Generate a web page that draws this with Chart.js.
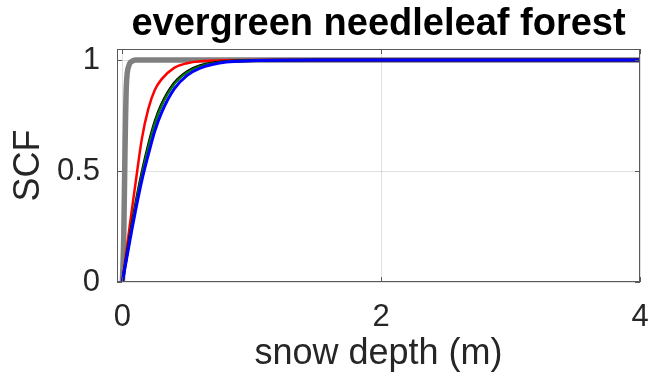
<!DOCTYPE html>
<html>
<head>
<meta charset="utf-8">
<script src="https://cdn.jsdelivr.net/npm/chart.js@4.4.1/dist/chart.umd.min.js"></script>
<style>
  html, body { margin: 0; padding: 0; background: #fff; }
  #wrap { width: 650px; height: 379px; }
</style>
</head>
<body>
<div id="wrap"><canvas id="myChart" width="650" height="379"></canvas></div>
<script>
// snow depth (m) and snow cover fraction for each curve
var depth = [0, 0.01, 0.02, 0.03, 0.05, 0.075, 0.1, 0.15, 0.2, 0.25, 0.3, 0.4, 0.5, 0.6, 0.8, 1.0, 1.5, 2, 3, 4];
var scfGray  = [0, 0.2, 0.6, 0.88, 0.975, 0.995, 1, 1, 1, 1, 1, 1, 1, 1, 1, 1, 1, 1, 1, 1];
var scfRed   = [0, 0.045, 0.09, 0.135, 0.225, 0.335, 0.44, 0.645, 0.78, 0.865, 0.912, 0.965, 0.986, 0.995, 0.999, 1, 1, 1, 1, 1];
var scfBlack = [0, 0.036, 0.072, 0.108, 0.178, 0.264, 0.345, 0.49, 0.615, 0.72, 0.797, 0.896, 0.948, 0.975, 0.994, 0.998, 1, 1, 1, 1];
var scfGreen = [0, 0.0357, 0.0713, 0.107, 0.176, 0.262, 0.342, 0.486, 0.61, 0.715, 0.792, 0.892, 0.945, 0.973, 0.994, 0.998, 1, 1, 1, 1];
var scfBlue  = [0, 0.033, 0.066, 0.098, 0.162, 0.242, 0.318, 0.458, 0.574, 0.68, 0.76, 0.87, 0.931, 0.964, 0.991, 0.997, 1, 1, 1, 1];

var xTicks = [0, 2, 4];
var yTicks = [0, 0.5, 1];
var titleText = 'evergreen needleleaf forest';

function pts(ys) {
  return depth.map(function (d, i) { return { x: d, y: ys[i] }; });
}

function line(label, ys, color, width) {
  return {
    label: label,
    data: pts(ys),
    borderColor: color,
    backgroundColor: color,
    borderWidth: width,
    pointRadius: 0,
    fill: false,
    cubicInterpolationMode: 'monotone'
  };
}

// box round the plot, inward ticks and the title above it
var axesBox = {
  id: 'axesBox',
  afterDraw: function (chart) {
    var ctx = chart.ctx;
    var a = chart.chartArea;
    var xs = chart.scales.x, ys = chart.scales.y;
    ctx.save();
    ctx.strokeStyle = '#5a5a5a';
    ctx.lineWidth = 1;
    ctx.strokeRect(a.left + 0.5, a.top + 0.5, a.right - a.left - 1, a.bottom - a.top - 1);
    ctx.beginPath();
    xTicks.forEach(function (v) {
      var px = Math.round(xs.getPixelForValue(v)) + 0.5;
      ctx.moveTo(px, a.bottom); ctx.lineTo(px, a.bottom - 5);
      ctx.moveTo(px, a.top); ctx.lineTo(px, a.top + 5);
    });
    yTicks.forEach(function (v) {
      var py = Math.round(ys.getPixelForValue(v)) + 0.5;
      ctx.moveTo(a.left, py); ctx.lineTo(a.left + 5, py);
      ctx.moveTo(a.right, py); ctx.lineTo(a.right - 5, py);
    });
    ctx.stroke();
    ctx.fillStyle = '#000';
    ctx.font = 'bold 38px "Liberation Sans", Arial, sans-serif';
    ctx.textAlign = 'center';
    ctx.textBaseline = 'middle';
    ctx.fillText(titleText, (a.left + a.right) / 2, 25);
    ctx.restore();
  }
};

var ctx = document.getElementById('myChart');
var chart = new Chart(ctx, {
  type: 'line',
  data: {
    datasets: [
      line('blue', scfBlue, '#0000ff', 3),
      line('green', scfGreen, '#008000', 2),
      line('black', scfBlack, '#000000', 3),
      line('red', scfRed, '#ff0000', 2.5),
      line('gray', scfGray, '#808080', 5.5)
    ]
  },
  options: {
    responsive: false,
    animation: false,
    layout: { padding: { top: 49, right: 10, left: 0, bottom: 0 } },
    plugins: {
      legend: { display: false },
      tooltip: { enabled: false }
    },
    scales: {
      x: {
        type: 'linear',
        min: -0.042,
        max: 4,
        afterBuildTicks: function (s) { s.ticks = xTicks.map(function (v) { return { value: v }; }); },
        afterFit: function (s) { s.height = 97; s.paddingLeft = 0; s.paddingRight = 0; },
        grid: { color: 'rgba(0,0,0,0.12)', drawTicks: false },
        border: { display: false },
        ticks: {
          padding: 17,
          color: '#262626',
          font: { family: '"Liberation Sans", Arial, sans-serif', size: 31 },
          callback: function (v) { return String(v); }
        },
        title: {
          display: true,
          text: 'snow depth (m)',
          color: '#262626',
          font: { family: '"Liberation Sans", Arial, sans-serif', size: 36 },
          padding: { top: 0, bottom: 3 }
        }
      },
      y: {
        type: 'linear',
        min: 0,
        max: 1.05,
        afterBuildTicks: function (s) { s.ticks = yTicks.map(function (v) { return { value: v }; }); },
        afterFit: function (s) { s.width = 117; s.paddingTop = 0; s.paddingBottom = 0; },
        grid: { color: 'rgba(0,0,0,0.12)', drawTicks: false },
        border: { display: false },
        ticks: {
          padding: 17,
          color: '#262626',
          font: { family: '"Liberation Sans", Arial, sans-serif', size: 31 },
          callback: function (v) { return String(v); }
        },
        title: {
          display: true,
          text: 'SCF',
          color: '#262626',
          font: { family: '"Liberation Sans", Arial, sans-serif', size: 36 },
          padding: { top: 7, bottom: 0 }
        }
      }
    }
  },
  plugins: [axesBox]
});
</script>
</body>
</html>
